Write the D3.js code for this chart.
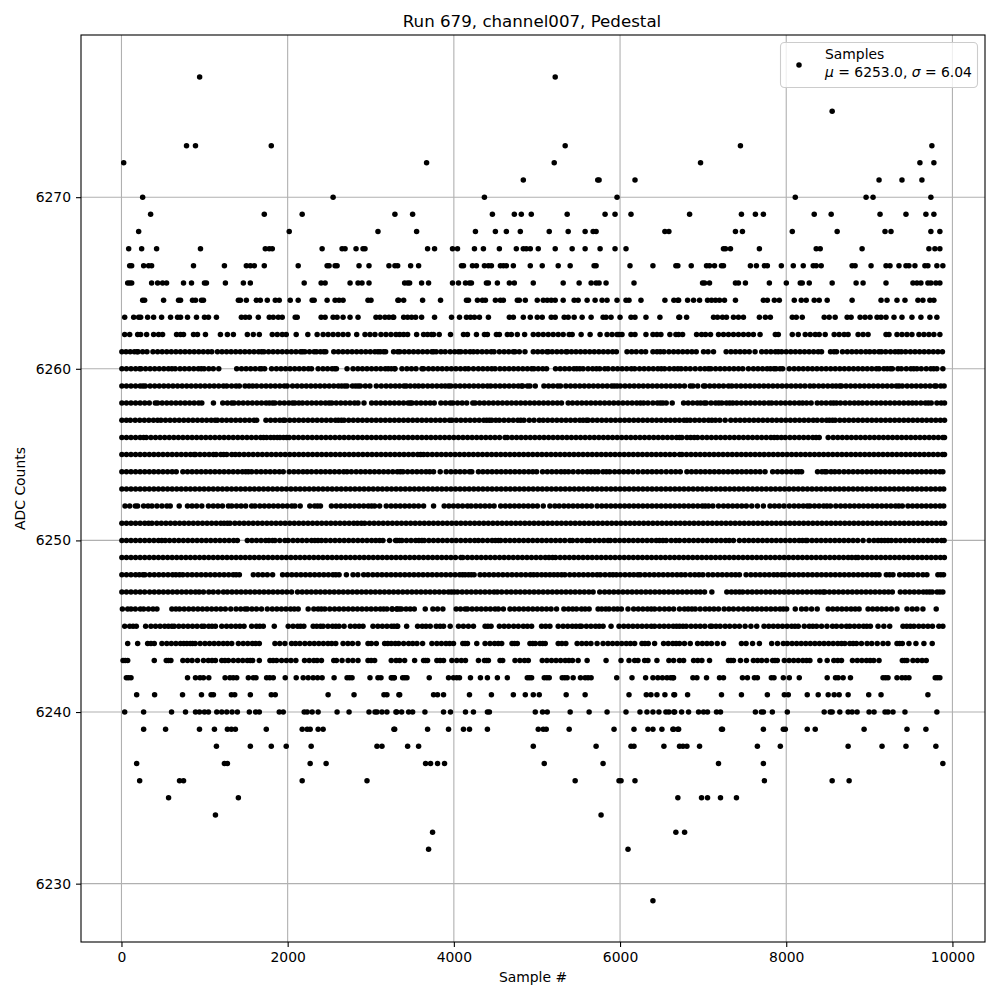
<!DOCTYPE html>
<html><head><meta charset="utf-8">
<script src="https://cdnjs.cloudflare.com/ajax/libs/d3/7.8.5/d3.min.js"></script>
<style>html,body{margin:0;padding:0;background:#fff}svg{display:block}text{font-family:"DejaVu Sans",sans-serif;fill:#000}</style>
</head><body><div id="chart"></div>
<script>
const chartTitle="Run 679, channel007, Pedestal";
const xLabel="Sample #";
const yLabel="ADC Counts";
const xTicks=[0,2000,4000,6000,8000,10000];
const yTicks=[6230,6240,6250,6260,6270];
const s6277=[936,5215];
const s6275=[8548];
const s6273=[778,886,1798,5335,7444,9748];
const s6272=[22,3667,5203,6964,9604,9772];
const s6271=[4831,5727,5743,6175,9112,9388,9628];
const s6270=[250,2542,4363,5959,8104,8956,9040,9736];
const s6269=[346,1714,2170,3286,3499,4459,4723,4807,4927,5359,5815,5935,6127,6832,7456,7624,7720,8332,8536,9124,9436,9676,9772];
const s6268=[202,2014,3082,3547,4255,4495,4627,4795,5143,5371,5575,5671,5707,6535,6583,7384,7468,8068,8608,9184,9256,9736,9844];
const s6267=[82,238,418,946,1726,1774,1810,2410,2650,2686,2818,2902,2926,3679,3763,3979,4039,4243,4351,4543,4747,4831,4867,4915,5011,5215,5419,5575,5755,5935,6067,7240,7264,7324,7672,8356,8404,8908,9712,9784,9844];
const s6266=[94,118,262,322,358,862,1234,1498,1546,1594,1714,2122,2470,2494,2566,2590,2854,2974,3214,3286,3319,3475,3571,4087,4111,4219,4267,4363,4411,4447,4555,4591,4627,4711,4915,5059,5251,5395,5683,5707,6115,6391,6667,6691,6852,7036,7072,7132,7216,7240,7564,7636,7732,7768,7936,8080,8200,8320,8356,8416,8788,8824,9016,9196,9244,9352,9436,9472,9544,9664,9700,9808,9880];
const s6265=[70,94,118,358,430,490,538,742,838,994,1018,1246,1462,1546,2194,2398,2446,2746,2842,2890,2974,3403,3439,3463,3607,3691,3979,4051,4135,4183,4207,4387,4411,4519,4663,4723,4951,5311,5503,5647,5707,5743,5827,6163,6988,7012,7072,7384,7420,7504,7792,7996,8164,8188,8272,8548,8836,8920,9196,9520,9568,9616,9700,9736,9796,9844];
const s6264=[250,274,502,682,706,850,886,958,982,1402,1426,1498,1618,1666,1750,1846,1894,2026,2122,2290,2314,2470,2566,2614,2662,2962,2998,3322,3331,3391,3619,3835,4147,4171,4279,4339,4375,4495,4555,4591,4759,4783,4855,4999,5071,5119,5167,5215,5311,5443,5491,5599,5695,5779,5839,5959,6067,6103,6247,6535,6643,6691,6700,6808,6880,6952,7048,7096,7144,7192,7252,7384,7720,7768,7852,7912,8092,8176,8236,8332,8392,8488,8788,9136,9208,9328,9424,9580,9640,9724,9772];
const s6263=[34,142,202,226,310,382,478,586,670,706,790,898,994,1042,1138,1438,1486,1534,1642,1774,1822,1882,1930,2086,2110,2398,2446,2542,2590,2662,2746,2842,3058,3106,3166,3214,3262,3271,3391,3439,3487,3535,3607,3763,3967,4063,4147,4195,4243,4303,4411,4663,4711,4831,4915,4999,5059,5167,5215,5323,5371,5443,5539,5647,5791,5827,5887,5995,6127,6175,6307,6475,6703,6712,6796,7120,7168,7228,7276,7360,7420,7480,7672,7744,7804,8068,8116,8188,8452,8512,8584,8728,8776,8884,8944,9004,9088,9136,9196,9292,9388,9508,9616,9724,9808];
const s6262=[34,94,190,226,298,382,442,490,658,706,742,862,910,1006,1186,1270,1342,1510,1582,1654,1810,1870,1930,1978,2098,2238,2350,2422,2482,2542,2602,2662,2722,2826,2926,2986,3046,3118,3178,3238,3298,3343,3391,3439,3547,3631,3679,3727,3751,3819,3955,4111,4159,4267,4363,4399,4507,4543,4639,4687,4759,4847,4951,5011,5071,5131,5191,5251,5311,5383,5419,5527,5635,5755,5839,5899,5959,5983,6019,6127,6175,6307,6391,6439,6487,6595,6667,6700,6748,6916,6976,7024,7084,7180,7240,7300,7360,7420,7480,7540,7600,7680,7864,7900,8068,8140,8224,8284,8344,8392,8464,8572,8632,8692,8740,8860,8920,8980,9196,9232,9328,9388,9448,9508,9592,9652,9712,9772,9844];
const s6261=[0,50,100,150,182,195,250,302,374,430,485,540,595,650,705,760,815,870,925,980,1035,1082,1150,1205,1260,1315,1370,1425,1480,1535,1590,1645,1682,1710,1765,1820,1875,1930,1985,2040,2095,2150,2174,2202,2258,2314,2342,2390,2430,2454,2550,2605,2660,2715,2770,2825,2880,2935,2990,3045,3082,3110,3150,3174,3270,3320,3345,3400,3455,3510,3565,3620,3675,3730,3751,3783,3840,3891,3951,4005,4051,4079,4135,4190,4231,4279,4335,4390,4445,4479,4543,4600,4655,4710,4731,4783,4851,4951,5005,5060,5115,5131,5179,5235,5290,5345,5359,5411,5465,5520,5575,5630,5685,5740,5795,5850,5905,5951,6079,6135,6190,6251,6303,6391,6440,6479,6523,6583,6640,6695,6750,6805,6860,6912,7000,7055,7120,7272,7330,7385,7440,7495,7550,7620,7700,7755,7810,7865,7900,7940,7995,8050,8105,8160,8215,8270,8325,8380,8420,8528,8570,8600,8672,8730,8785,8840,8895,8952,9000,9055,9110,9140,9192,9250,9305,9345,9380,9432,9490,9545,9600,9655,9710,9765,9820,9875];
const s6260=[0,55,110,165,214,230,285,340,395,450,505,560,602,642,700,755,810,865,920,955,990,1046,1100,1166,1382,1440,1495,1550,1605,1660,1682,1718,1802,1860,1915,1970,2025,2080,2135,2190,2245,2282,2362,2420,2475,2530,2562,2582,2710,2782,2840,2895,2950,3005,3060,3115,3170,3205,3242,3282,3287,3371,3430,3485,3540,3611,3631,3690,3745,3800,3855,3910,3965,4020,4075,4130,4171,4231,4290,4345,4400,4451,4491,4550,4605,4660,4715,4770,4825,4880,4931,4959,5011,5065,5111,5219,5275,5330,5385,5440,5475,5511,5551,5610,5665,5711,5751,5811,5851,5910,5965,6020,6075,6131,6171,6230,6285,6340,6395,6450,6491,6531,6590,6645,6691,6730,6785,6840,6900,6960,7015,7060,7088,7145,7200,7255,7310,7365,7420,7472,7540,7600,7655,7710,7765,7805,7848,7872,7920,7952,8032,8090,8145,8200,8255,8310,8365,8420,8475,8530,8585,8640,8695,8750,8805,8860,8915,8970,9025,9080,9112,9170,9210,9248,9272,9340,9380,9440,9495,9530,9568,9620,9680,9735,9770,9808,9880];
const s6259=[0,55,110,165,220,254,282,340,395,450,505,560,615,670,725,780,835,890,945,1000,1055,1110,1165,1222,1262,1320,1374,1414,1482,1530,1574,1622,1680,1735,1790,1845,1900,1955,1990,2054,2110,2165,2220,2275,2330,2385,2440,2495,2550,2605,2645,2682,2710,2775,2810,2842,2870,2930,2985,3062,3122,3180,3235,3290,3342,3395,3423,3471,3525,3571,3623,3680,3735,3790,3845,3890,3931,3959,4015,4070,4125,4180,4235,4290,4345,4399,4439,4495,4550,4605,4660,4715,4770,4811,4823,4880,4911,4975,5079,5135,5190,5245,5279,5343,5400,5455,5510,5565,5620,5675,5730,5785,5840,5895,5925,5959,5999,6055,6110,6165,6220,6275,6330,6385,6440,6495,6550,6605,6660,6712,6770,6840,6872,6930,7000,7020,7075,7130,7185,7240,7300,7340,7395,7450,7505,7560,7615,7670,7725,7780,7835,7890,7945,8000,8055,8110,8165,8220,8280,8328,8385,8440,8495,8550,8595,8640,8660,8715,8770,8825,8880,8935,8990,9045,9100,9155,9210,9265,9320,9352,9392,9450,9505,9560,9615,9670,9725,9780,9800,9855,9895];
const s6258=[0,55,110,165,220,275,330,402,430,485,540,595,650,705,760,815,870,925,962,1102,1214,1270,1322,1350,1405,1460,1515,1570,1625,1680,1735,1775,1814,1842,1900,1955,2010,2054,2082,2130,2174,2230,2285,2340,2395,2450,2494,2526,2580,2635,2690,2745,2800,2842,2914,3006,3060,3115,3170,3225,3280,3335,3390,3445,3471,3491,3545,3600,3655,3710,3759,3839,3895,3951,3983,4040,4095,4150,4223,4251,4305,4360,4415,4470,4525,4580,4635,4690,4745,4800,4855,4910,4965,5020,5075,5130,5185,5240,5291,5371,5423,5480,5535,5590,5645,5700,5755,5810,5865,5920,5975,6030,6085,6140,6195,6240,6279,6331,6390,6445,6480,6511,6551,6623,6760,6815,6870,6925,6965,7008,7032,7090,7145,7184,7220,7275,7315,7352,7400,7455,7510,7565,7620,7675,7730,7784,7820,7875,7930,7985,8040,8095,8150,8192,8240,8295,8368,8420,8475,8530,8565,8600,8648,8705,8760,8815,8865,8912,8968,9025,9080,9135,9190,9245,9300,9355,9410,9465,9512,9560,9615,9670,9705,9740,9808,9860,9900];
const s6257=[0,54,102,160,215,270,325,380,430,470,525,580,635,690,745,800,855,910,965,1020,1075,1122,1150,1205,1260,1315,1370,1425,1480,1535,1590,1622,1734,1790,1845,1900,1942,1962,2020,2075,2130,2185,2240,2295,2350,2405,2460,2515,2570,2605,2642,2674,2730,2785,2840,2895,2950,3005,3060,3115,3170,3225,3280,3335,3390,3445,3500,3555,3610,3665,3720,3775,3830,3885,3943,3971,4025,4080,4135,4190,4245,4300,4355,4390,4423,4451,4500,4543,4599,4655,4710,4765,4800,4839,4903,4960,5023,5071,5125,5180,5235,5290,5345,5400,5455,5510,5550,5591,5611,5665,5720,5775,5830,5885,5940,5995,6050,6105,6160,6215,6270,6325,6380,6435,6490,6545,6600,6655,6710,6765,6800,6840,6895,6950,7005,7060,7100,7144,7196,7260,7328,7385,7440,7495,7550,7605,7660,7715,7770,7825,7880,7935,7990,8045,8100,8155,8210,8265,8320,8368,8425,8480,8515,8552,8584,8640,8695,8750,8805,8860,8915,8970,9025,9080,9135,9190,9245,9300,9355,9410,9465,9520,9575,9630,9685,9740,9795,9850,9900];
const s6256=[0,55,110,165,220,262,294,350,405,460,515,570,625,680,735,790,845,900,955,1010,1065,1120,1175,1230,1285,1340,1395,1450,1505,1560,1615,1670,1705,1742,1790,1830,1870,1902,1945,1982,2014,2070,2125,2180,2235,2290,2345,2400,2455,2510,2565,2620,2675,2730,2785,2840,2895,2950,3005,3060,3115,3170,3225,3280,3335,3390,3445,3500,3555,3610,3665,3720,3775,3830,3885,3940,3995,4050,4105,4160,4215,4270,4325,4380,4435,4490,4545,4611,4639,4695,4750,4805,4860,4915,4970,5025,5080,5135,5190,5245,5300,5355,5410,5465,5520,5575,5630,5685,5740,5795,5850,5905,5960,6015,6070,6125,6180,6235,6290,6345,6400,6455,6510,6565,6620,6675,6712,6740,6800,6845,6888,6928,6985,7040,7095,7150,7205,7260,7315,7370,7425,7480,7535,7590,7645,7700,7755,7810,7850,7888,7936,7984,8040,8095,8150,8205,8260,8315,8355,8392,8500,8560,8615,8670,8725,8780,8835,8890,8945,9000,9055,9110,9165,9220,9275,9330,9385,9440,9495,9550,9605,9660,9715,9770,9825,9880,9900];
const s6255=[0,55,110,165,220,275,330,385,440,495,550,605,660,715,770,825,870,886,940,995,1050,1102,1134,1190,1225,1262,1322,1366,1414,1470,1525,1580,1635,1690,1745,1800,1855,1910,1965,2020,2075,2130,2185,2240,2295,2350,2405,2460,2515,2570,2625,2680,2735,2790,2845,2900,2955,3010,3065,3120,3175,3230,3285,3340,3395,3450,3505,3560,3595,3631,3679,3735,3790,3845,3900,3955,4010,4065,4120,4175,4230,4285,4340,4395,4450,4505,4560,4615,4670,4725,4780,4835,4890,4945,5000,5055,5110,5165,5220,5275,5330,5385,5440,5495,5550,5605,5660,5715,5770,5825,5880,5935,5990,6045,6100,6155,6210,6265,6320,6375,6430,6485,6540,6595,6650,6712,6740,6795,6850,6905,6960,7015,7070,7125,7180,7235,7290,7345,7400,7455,7510,7565,7620,7675,7730,7785,7840,7895,7950,8005,8060,8115,8170,8225,8280,8335,8390,8445,8500,8555,8610,8665,8720,8775,8830,8885,8940,8995,9050,9105,9160,9215,9270,9325,9380,9435,9490,9545,9600,9655,9710,9765,9820,9875,9900];
const s6254=[0,55,110,165,220,275,330,385,440,495,550,605,654,734,790,845,900,955,1010,1065,1120,1175,1230,1285,1340,1395,1450,1490,1522,1562,1620,1675,1730,1785,1840,1895,1942,2014,2070,2125,2180,2230,2282,2340,2395,2450,2505,2560,2615,2670,2710,2762,2820,2875,2930,2985,3040,3095,3150,3205,3260,3315,3350,3383,3439,3495,3550,3605,3660,3705,3751,3831,3903,3960,4015,4070,4125,4183,4211,4291,4345,4400,4455,4510,4565,4620,4675,4730,4785,4840,4895,4945,4991,5063,5120,5175,5230,5285,5330,5375,5431,5491,5545,5600,5645,5691,5731,5790,5831,5871,5930,5985,6040,6095,6151,6211,6271,6325,6380,6435,6491,6551,6610,6665,6720,6800,6855,6910,6965,7020,7075,7130,7185,7240,7295,7350,7405,7460,7515,7570,7625,7680,7740,7832,7890,7945,8000,8055,8110,8145,8180,8372,8425,8460,8480,8535,8580,8632,8690,8745,8800,8855,8910,8965,9020,9075,9130,9185,9240,9295,9350,9405,9460,9515,9570,9625,9680,9735,9790,9845,9880];
const s6253=[0,55,110,165,220,275,330,385,440,495,550,605,660,715,770,825,880,935,990,1045,1100,1155,1210,1265,1320,1375,1430,1485,1540,1595,1650,1705,1760,1815,1870,1925,1980,2035,2090,2145,2200,2255,2310,2365,2420,2475,2530,2585,2640,2695,2750,2805,2860,2915,2970,3025,3080,3135,3190,3245,3300,3355,3410,3465,3520,3575,3630,3685,3740,3795,3850,3905,3960,4015,4070,4125,4180,4235,4290,4345,4400,4455,4510,4565,4620,4675,4730,4785,4840,4895,4950,5005,5060,5115,5170,5225,5280,5335,5390,5445,5500,5555,5610,5665,5720,5775,5830,5885,5940,5995,6050,6105,6160,6215,6270,6325,6380,6435,6490,6545,6600,6655,6710,6765,6820,6875,6930,6985,7040,7095,7150,7205,7260,7315,7370,7425,7480,7535,7590,7645,7700,7755,7810,7865,7920,7975,8030,8085,8140,8195,8250,8305,8360,8415,8470,8525,8580,8635,8690,8745,8800,8855,8910,8965,9020,9075,9130,9185,9240,9295,9350,9405,9460,9515,9570,9625,9680,9735,9790,9845,9890];
const s6252=[38,94,162,190,262,315,362,422,482,542,582,690,790,845,900,962,1042,1100,1155,1210,1282,1322,1380,1435,1490,1562,1602,1660,1715,1770,1825,1880,1935,1990,2045,2082,2146,2262,2320,2355,2390,2522,2580,2635,2690,2745,2800,2855,2910,2965,3005,3042,3102,3182,3240,3295,3350,3405,3460,3515,3570,3631,3751,3879,3935,3990,4045,4100,4159,4203,4260,4315,4370,4425,4479,4559,4615,4670,4725,4780,4835,4890,4945,5000,5071,5151,5211,5263,5320,5375,5430,5485,5540,5595,5651,5719,5775,5830,5885,5940,5995,6050,6105,6160,6215,6270,6325,6380,6435,6490,6545,6600,6655,6710,6765,6820,6875,6930,6985,7020,7060,7112,7180,7240,7295,7350,7405,7460,7515,7580,7648,7720,7800,7855,7910,7968,8032,8090,8145,8200,8248,8280,8335,8390,8445,8485,8528,8592,8650,8705,8760,8815,8870,8925,8980,9035,9090,9145,9200,9255,9310,9350,9392,9460,9515,9570,9625,9680,9735,9790,9845,9890];
const s6251=[0,55,110,165,220,275,322,362,420,475,530,585,640,695,750,805,860,915,970,1025,1080,1135,1190,1230,1270,1302,1360,1415,1470,1525,1580,1635,1690,1745,1800,1855,1910,1965,2020,2075,2130,2185,2240,2295,2350,2405,2460,2515,2570,2625,2680,2735,2790,2835,2882,2922,2980,3035,3090,3145,3200,3255,3310,3365,3420,3475,3530,3585,3640,3695,3750,3805,3860,3915,3970,4025,4080,4135,4190,4245,4300,4355,4410,4465,4520,4575,4630,4685,4740,4795,4850,4905,4960,5015,5070,5125,5180,5235,5290,5345,5400,5455,5510,5565,5620,5675,5730,5785,5840,5895,5950,6005,6060,6115,6170,6225,6280,6335,6390,6445,6500,6555,6610,6665,6720,6775,6830,6885,6940,6995,7050,7105,7160,7215,7270,7325,7380,7435,7490,7545,7600,7655,7710,7765,7820,7875,7930,7985,8040,8095,8150,8205,8260,8315,8370,8425,8480,8535,8590,8645,8700,8755,8810,8865,8920,8975,9030,9085,9140,9195,9250,9305,9360,9415,9470,9525,9580,9635,9690,9745,9800,9855,9900];
const s6250=[0,55,110,165,220,275,330,385,440,480,522,574,630,685,740,795,850,905,960,1015,1070,1125,1180,1235,1290,1345,1390,1510,1565,1620,1675,1730,1770,1814,1842,1900,1962,2002,2060,2115,2170,2225,2282,2322,2360,2402,2454,2510,2565,2620,2675,2730,2785,2840,2895,2950,3005,3055,3102,3142,3222,3294,3342,3311,3370,3425,3480,3535,3575,3611,3639,3695,3750,3805,3860,3915,3971,4023,4079,4135,4190,4245,4291,4343,4400,4455,4495,4531,4559,4615,4670,4725,4780,4835,4890,4945,5000,5055,5110,5165,5220,5275,5330,5391,5423,5480,5535,5591,5631,5690,5745,5800,5851,5879,5935,5990,6045,6100,6155,6210,6265,6320,6375,6430,6470,6511,6551,6611,6665,6711,6770,6825,6880,6935,6990,7045,7100,7155,7210,7265,7310,7360,7432,7490,7545,7600,7655,7710,7765,7820,7875,7930,7985,8040,8095,8150,8190,8232,8248,8305,8360,8415,8470,8525,8580,8635,8690,8745,8800,8855,8920,8992,9050,9100,9140,9180,9220,9260,9315,9370,9425,9480,9535,9590,9645,9700,9755,9810,9865,9895];
const s6249=[0,55,110,165,220,275,330,385,440,495,550,605,660,715,770,825,880,935,990,1045,1100,1155,1210,1265,1320,1375,1430,1485,1540,1595,1650,1705,1760,1815,1870,1925,1980,2035,2090,2145,2200,2255,2310,2365,2420,2475,2530,2585,2640,2695,2750,2805,2860,2915,2970,3025,3080,3135,3190,3245,3300,3355,3410,3465,3520,3575,3630,3685,3740,3795,3850,3905,3960,4015,4079,4103,4160,4215,4270,4325,4380,4435,4490,4545,4600,4655,4710,4765,4820,4875,4930,4985,5040,5095,5140,5183,5219,5275,5330,5385,5440,5495,5550,5605,5660,5715,5770,5825,5880,5935,5990,6045,6100,6155,6210,6265,6320,6375,6430,6485,6540,6595,6650,6705,6760,6815,6870,6925,6980,7035,7090,7145,7200,7255,7310,7365,7420,7475,7530,7585,7640,7695,7750,7805,7860,7915,7970,8025,8080,8135,8190,8245,8300,8355,8410,8465,8520,8575,8630,8685,8740,8785,8832,8860,8915,8970,9025,9080,9135,9190,9245,9300,9355,9410,9465,9520,9575,9630,9685,9740,9795,9850,9898];
const s6248=[0,55,110,165,210,254,278,335,390,445,500,555,610,650,694,734,790,845,900,955,1010,1065,1120,1175,1230,1285,1340,1375,1414,1582,1640,1695,1750,1814,1934,1990,2045,2100,2155,2210,2265,2320,2375,2430,2485,2540,2575,2614,2702,2782,2840,2910,2962,3020,3075,3130,3185,3240,3295,3350,3405,3460,3515,3570,3625,3680,3735,3790,3845,3900,3955,4010,4065,4100,4131,4171,4205,4239,4311,4365,4420,4475,4530,4585,4640,4695,4750,4805,4860,4915,4955,4999,5051,5100,5151,5199,5245,5291,5331,5390,5445,5500,5555,5610,5665,5719,5759,5815,5870,5910,5951,5999,6055,6110,6160,6211,6239,6295,6350,6405,6460,6515,6570,6625,6680,6730,6780,6840,6895,6945,6992,7056,7112,7170,7225,7280,7335,7385,7432,7512,7570,7625,7680,7735,7790,7845,7890,7940,7980,8035,8090,8145,8200,8255,8310,8365,8420,8475,8530,8585,8640,8695,8750,8805,8860,8915,8970,9025,9070,9112,9200,9240,9280,9360,9420,9470,9520,9580,9640,9688,9820,9855,9888];
const s6247=[0,55,110,165,220,274,334,390,445,500,555,610,665,720,775,830,885,930,982,1046,1100,1160,1222,1270,1325,1380,1435,1490,1545,1600,1655,1710,1765,1820,1875,1930,1985,2042,2114,2170,2225,2280,2335,2390,2445,2500,2555,2610,2665,2720,2775,2830,2885,2940,2995,3050,3105,3160,3215,3270,3325,3380,3435,3490,3545,3600,3655,3710,3765,3820,3875,3930,3965,3999,4039,4095,4150,4205,4260,4315,4370,4425,4479,4519,4571,4630,4685,4740,4795,4850,4905,4960,5015,5070,5125,5180,5235,5290,5345,5400,5455,5510,5565,5620,5671,5751,5810,5865,5920,5975,6030,6085,6140,6195,6250,6305,6360,6415,6470,6525,6580,6635,6690,6745,6800,6855,6910,6960,7012,7100,7280,7335,7385,7432,7472,7530,7585,7640,7695,7750,7805,7860,7915,7970,8025,8080,8135,8190,8245,8300,8355,8400,8440,8460,8515,8570,8625,8680,8735,8790,8845,8900,8955,9010,9065,9120,9175,9225,9272,9368,9425,9480,9535,9590,9645,9685,9720,9752,9810,9845,9880];
const s6246=[6,70,110,162,222,262,320,375,422,602,650,694,750,805,860,915,970,1025,1080,1135,1190,1245,1310,1374,1430,1482,1510,1565,1620,1680,1750,1810,1865,1920,1975,2030,2075,2122,2242,2310,2362,2400,2442,2502,2560,2615,2670,2725,2780,2835,2890,2945,3000,3055,3110,3150,3190,3254,3310,3342,3251,3310,3365,3420,3470,3519,3651,3743,3800,3863,4023,4075,4131,4159,4215,4270,4325,4380,4435,4491,4531,4591,4671,4725,4780,4835,4890,4945,5000,5055,5110,5165,5231,5319,5375,5425,5471,5531,5575,5623,5731,5775,5823,5863,5920,5965,6011,6091,6159,6215,6270,6325,6370,6411,6471,6530,6585,6640,6711,6770,6815,6860,6900,6960,7020,7072,7125,7180,7248,7305,7360,7420,7480,7535,7590,7645,7700,7755,7810,7865,7920,7960,8000,8104,8180,8235,8300,8368,8500,8555,8610,8665,8720,8775,8825,8872,8980,9035,9090,9145,9200,9260,9328,9448,9512,9568,9640,9800];
const s6245=[34,94,135,174,286,350,405,460,515,560,602,630,685,740,795,850,905,962,990,1045,1085,1126,1202,1260,1315,1370,1420,1470,1562,1620,1660,1702,1834,2002,2060,2115,2150,2190,2302,2345,2390,2422,2480,2535,2575,2614,2674,2750,2805,2855,2902,3022,3080,3135,3190,3245,3310,3275,3319,3427,3559,3615,3660,3711,3783,3830,3871,3951,4051,4110,4170,4231,4371,4405,4443,4543,4600,4655,4715,4771,4831,4880,4931,5051,5100,5151,5251,5310,5365,5420,5465,5511,5531,5590,5645,5700,5745,5791,5887,5983,6040,6095,6150,6205,6260,6315,6371,6411,6470,6525,6580,6635,6675,6711,6752,6792,6850,6905,6960,7015,7080,7100,7150,7200,7260,7315,7375,7432,7500,7570,7640,7728,7785,7840,7895,7950,8005,8060,8100,8140,8212,8272,8315,8360,8420,8485,8552,8600,8660,8720,8760,8815,8870,8925,8965,9008,9100,9170,9240,9400,9445,9488,9532,9590,9645,9700,9755,9832,9880];
const s6244=[70,190,310,350,390,482,540,595,650,705,745,782,822,850,882,942,1000,1055,1110,1165,1220,1270,1322,1402,1460,1515,1570,1610,1654,1842,1900,1962,2042,2090,2142,2202,2260,2315,2370,2425,2480,2525,2574,2662,2720,2775,2842,2962,3002,3062,3162,3200,3242,3290,3331,3391,3451,3500,3551,3619,3731,3790,3845,3900,3945,3991,4103,4130,4159,4271,4371,4430,4485,4530,4571,4695,4725,4759,4911,4945,4975,5031,5065,5095,5251,5295,5343,5479,5535,5590,5645,5719,5791,5850,5905,5960,6015,6070,6120,6171,6259,6295,6335,6411,6519,6575,6630,6670,6711,6770,6840,6928,6985,7040,7095,7165,7240,7456,7512,7590,7672,7820,7890,7960,8008,8065,8120,8175,8230,8285,8340,8395,8450,8505,8560,8615,8660,8700,8760,8800,8840,8900,8968,9024,9090,9160,9220,9328,9360,9392,9472,9556,9652,9752];
const s6243=[14,40,70,390,534,560,590,734,790,845,910,982,1040,1085,1126,1202,1240,1282,1342,1400,1455,1510,1545,1574,1654,1782,1820,1862,1922,1980,2035,2094,2198,2255,2310,2350,2402,2550,2582,2650,2722,2780,2842,2962,3000,3042,3242,3300,3343,3403,3523,3631,3655,3679,3791,3830,3871,3971,4030,4085,4135,4291,4363,4390,4411,4551,4583,4731,4790,4845,4891,5059,5115,5170,5225,5280,5335,5380,5423,5491,5599,5827,6007,6103,6171,6211,6291,6331,6439,6583,6640,6711,6760,6880,6930,6980,7072,7300,7330,7360,7444,7516,7600,7650,7700,7760,7832,7860,7888,7972,8030,8085,8140,8195,8240,8280,8400,8488,8568,8615,8660,8792,8850,8905,8960,9005,9048,9112,9392,9420,9448,9520,9575,9630,9680];
const s6242=[54,80,110,790,886,940,982,1046,1242,1300,1340,1382,1522,1582,1614,1742,1780,1822,1966,2098,2182,2242,2302,2355,2410,2554,2710,2740,2770,2986,3082,3118,3242,3274,3251,3279,3379,3405,3431,3699,3931,3990,4030,4063,4195,4315,4399,4519,4639,4879,4905,4931,5083,5115,5143,5299,5330,5359,5431,5519,5575,5610,5647,5955,6139,6303,6391,6450,6505,6560,6605,6639,6632,6872,6920,7036,7192,7240,7468,7528,7612,7648,7816,7848,7960,8032,8152,8488,8588,8620,8680,8768,9160,9190,9220,9328,9388,9430,9472,9788,9815,9844];
const s6241=[178,394,730,958,1074,1102,1318,1358,1546,1798,1846,2482,2794,3154,3190,3334,3343,3751,3799,3871,4183,4447,4711,4855,4951,5023,5347,5575,6103,6311,6367,6439,6535,6643,6652,6808,7216,7456,7768,7972,8020,8248,8380,8500,8572,8632,8740,8988,9136,9700];
const s6240=[34,262,598,766,886,934,994,1042,1142,1202,1262,1326,1390,1534,1610,1654,1894,1942,2194,2230,2290,2362,2590,2734,2974,3046,3070,3130,3190,3298,3307,3367,3451,3499,3647,3871,3955,4135,4231,4399,4423,4975,5063,5119,5395,5623,5839,6067,6235,6319,6391,6463,6547,6583,6643,6652,6736,6820,6940,7000,7048,7156,7204,7624,7696,7720,7828,8008,8452,8524,8548,8640,8740,8788,8848,8992,9052,9184,9220,9280,9424,9808];
const s6239=[262,526,934,1114,1270,1318,1366,1738,2170,2230,2266,2362,2422,3274,3283,3679,3931,4111,4183,4399,5011,5071,5107,5383,5923,6163,6331,6391,6499,6631,6691,6640,6700,7216,7228,7720,7960,7984,8248,8344,8932,9448,9676];
const s6238=[1138,1546,1798,1978,2278,3070,3130,3439,3571,4951,5707,6127,6163,6523,6711,6752,6800,6952,7648,7924,8740,9148,9436,9796];
const s6237=[178,1234,1270,2266,2458,3655,3715,3799,3883,5083,5791,7180,7720,9880];
const s6236=[214,694,742,2170,2950,5455,5983,6007,6175,7732,8548,8752];
const s6235=[562,1402,6691,6976,7048,7204,7396];
const s6234=[1126,5767];
const s6233=[3739,6667,6772];
const s6232=[3691,6091];
const s6229=[6391];
const rows=[[6277,s6277],[6275,s6275],[6273,s6273],[6272,s6272],[6271,s6271],[6270,s6270],[6269,s6269],[6268,s6268],[6267,s6267],[6266,s6266],[6265,s6265],[6264,s6264],[6263,s6263],[6262,s6262],[6261,s6261],[6260,s6260],[6259,s6259],[6258,s6258],[6257,s6257],[6256,s6256],[6255,s6255],[6254,s6254],[6253,s6253],[6252,s6252],[6251,s6251],[6250,s6250],[6249,s6249],[6248,s6248],[6247,s6247],[6246,s6246],[6245,s6245],[6244,s6244],[6243,s6243],[6242,s6242],[6241,s6241],[6240,s6240],[6239,s6239],[6238,s6238],[6237,s6237],[6236,s6236],[6235,s6235],[6234,s6234],[6233,s6233],[6232,s6232],[6229,s6229]];
const points=rows.flatMap(([adc,list])=>list.map(sample=>({sample,adc})));

const L=81,R=985,T=35,B=942;
const x=d3.scaleLinear().domain([-487,10392]).range([L,R]);
const y=d3.scaleLinear().domain([6226.6,6279.45]).range([B,T]);
const svg=d3.select("#chart").append("svg").attr("width",1000).attr("height",1000);

const grid=svg.append("g").attr("stroke","#b0b0b0").attr("stroke-width",1.1);
grid.selectAll(".gx").data(xTicks).join("line").attr("x1",d=>x(d)).attr("x2",d=>x(d)).attr("y1",T).attr("y2",B);
grid.selectAll(".gy").data(yTicks).join("line").attr("x1",L).attr("x2",R).attr("y1",d=>y(d)).attr("y2",d=>y(d));

svg.append("g").selectAll("circle").data(points).join("circle")
  .attr("cx",d=>x(d.sample)+0.4).attr("cy",d=>y(d.adc)).attr("r",2.75).attr("fill","#000");

const xAxis=d3.axisBottom(x).tickValues(xTicks).tickFormat(d3.format("d")).tickSize(5).tickPadding(5);
const yAxis=d3.axisLeft(y).tickValues(yTicks).tickFormat(d3.format("d")).tickSize(5).tickPadding(5);
const gx=svg.append("g").attr("transform",`translate(0,${B})`).call(xAxis);
const gy=svg.append("g").attr("transform",`translate(${L},0)`).call(yAxis);
[gx,gy].forEach(g=>{g.select(".domain").remove();g.selectAll("text").style("font-size","13.9px").style("font-family",'"DejaVu Sans"');g.selectAll("line").attr("stroke","#000").attr("stroke-width",1.1);});
svg.append("rect").attr("x",L).attr("y",T).attr("width",R-L).attr("height",B-T).attr("fill","none").attr("stroke","#000").attr("stroke-width",1.1);

svg.append("text").attr("x",(L+R)/2-1).attr("y",27).attr("text-anchor","middle").style("font-size","16.67px").text(chartTitle);
svg.append("text").attr("x",(L+R)/2).attr("y",982).attr("text-anchor","middle").style("font-size","13.9px").text(xLabel);
svg.append("text").attr("transform",`translate(25,${(T+B)/2}) rotate(-90)`).attr("text-anchor","middle").style("font-size","13.9px").text(yLabel);

const lg=svg.append("g");
lg.append("rect").attr("x",780.5).attr("y",42.5).attr("width",197).attr("height",45).attr("rx",4).attr("fill","#fff").attr("fill-opacity",0.8).attr("stroke","#ccc").attr("stroke-width",1.1);
lg.append("circle").attr("cx",799).attr("cy",65).attr("r",2.75).attr("fill","#000");
lg.append("text").attr("x",825).attr("y",59).style("font-size","13.9px").text("Samples");
const t2=lg.append("text").attr("x",825).attr("y",77).style("font-size","13.9px");
t2.append("tspan").style("font-style","italic").text("\u03bc");
t2.append("tspan").text(" = 6253.0, ");
t2.append("tspan").style("font-style","italic").text("\u03c3");
t2.append("tspan").text(" = 6.04");
</script></body></html>
